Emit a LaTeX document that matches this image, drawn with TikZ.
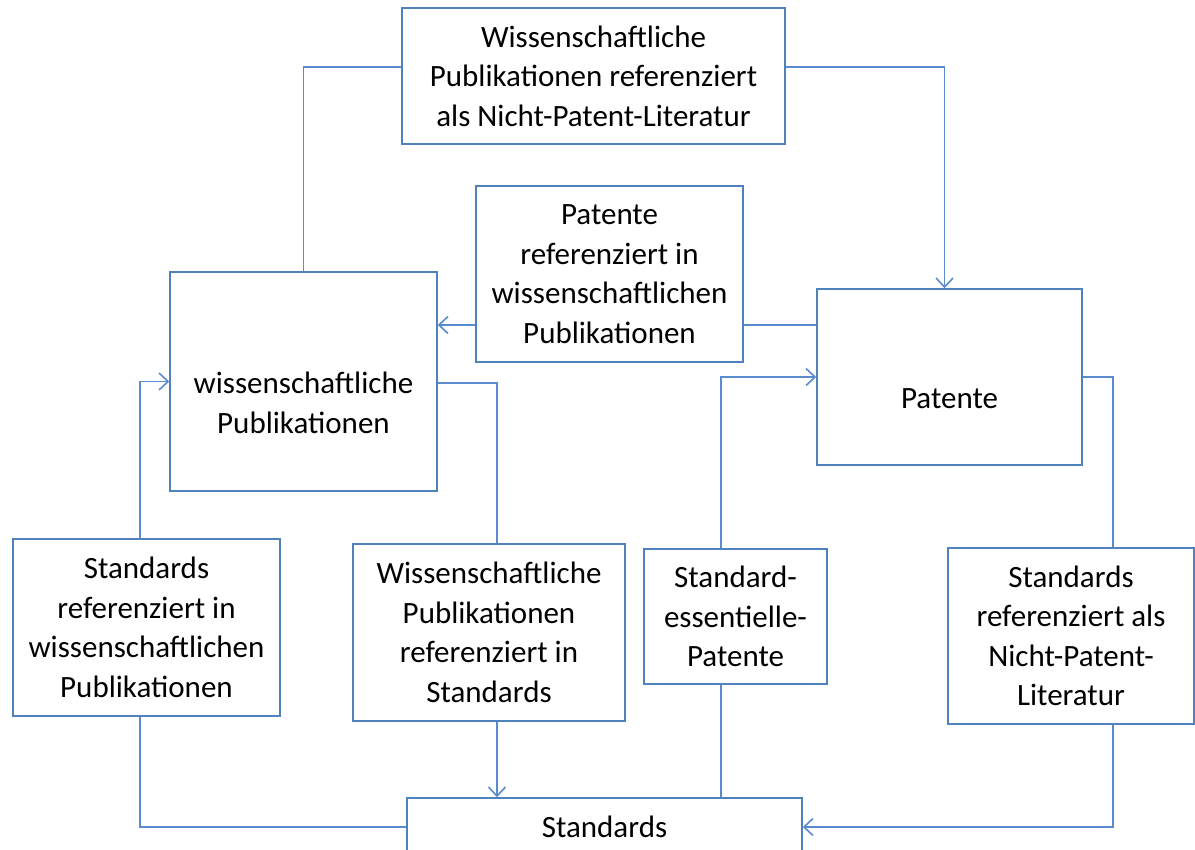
\documentclass[tikz,border=0pt]{standalone}
\usepackage{fontspec}
\setmainfont{Carlito}
\usetikzlibrary{arrows.meta}
\definecolor{conncol}{RGB}{91,139,207}
\definecolor{boxcol}{RGB}{79,129,189}
\begin{document}
\begin{tikzpicture}[x=1pt,y=-1pt,
  box/.style={draw=boxcol, line width=1.6pt, fill=white, inner sep=0pt, align=center,
    font=\fontsize{31}{39.5}\selectfont},
  lbl/.style={inner sep=0pt, align=center, font=\fontsize{31}{39.5}\selectfont},
  conn/.style={draw=conncol, line width=1.6pt},
  arr/.style={conn, -{Straight Barb[length=9pt,width=17pt,line width=1.6pt]}}
]
\useasboundingbox (0,0) rectangle (1195,850);
\clip (0,0) rectangle (1195,850);
\fill[white] (0,0) rectangle (1195,850);

% boxes
\node[box, minimum width=383pt, minimum height=136pt] (npl) at (593.5,76)
  {Wissenschaftliche\\Publikationen referenziert\\als Nicht-Patent-Literatur};
\node[box, minimum width=267pt, minimum height=176pt] (pref) at (609.5,274)
  {Patente\\referenziert in\\wissenschaftlichen\\Publikationen};
\node[box, minimum width=267pt, minimum height=219pt] (wpb) at (303.5,381.5) {};
\node[lbl] (wp) at (303.5,403) {wissenschaftliche\\Publikationen};
\node[box, minimum width=265pt, minimum height=176pt] (patb) at (949.5,377) {};
\node[lbl] (pat) at (949.5,399) {Patente};
\node[box, minimum width=267pt, minimum height=177pt] (srwp) at (146.5,627.5)
  {Standards\\referenziert in\\wissenschaftlichen\\Publikationen};
\node[box, minimum width=272pt, minimum height=177pt] (wprs) at (489,632.5)
  {Wissenschaftliche\\Publikationen\\referenziert in\\Standards};
\node[box, minimum width=183pt, minimum height=135pt] (sep) at (735.5,616.5)
  {Standard-\\essentielle-\\Patente};
\node[box, minimum width=246pt, minimum height=176pt] (srnpl) at (1071,636)
  {Standards\\referenziert als\\Nicht-Patent-\\Literatur};
\node[box, minimum width=395pt, minimum height=58pt] (std) at (604.5,827) {Standards};

% connectors
\draw[conn] (wpb.north) |- ([yshift=9pt]npl.west);
\draw[arr] ([yshift=9pt]npl.east) -| ([xshift=-5pt]patb.north);
\draw[conn] ([yshift=52pt]patb.west) -- ([yshift=52pt]patb.west -| pref.east);
\draw[arr] ([yshift=-51pt]pref.west) -- ([yshift=-51pt]pref.west -| wpb.east);
\draw[conn] ([yshift=-1.5pt]wpb.east) -| ([xshift=8pt]wprs.north);
\draw[arr] ([xshift=8pt]wprs.south) -- ([xshift=8pt]wprs.south |- std.north);
\draw[arr] ([xshift=-6.5pt]srwp.north) |- (wpb.west);
\draw[conn] ([xshift=-6.5pt]srwp.south) |- (std.west);
\draw[arr] ([xshift=-14.5pt]sep.north) |- (patb.west);
\draw[conn] ([xshift=-14.5pt]sep.south) -- ([xshift=-14.5pt]sep.south |- std.north);
\draw[conn] (patb.east) -| ([xshift=42pt]srnpl.north);
\draw[arr] ([xshift=42pt]srnpl.south) |- (std.east);
\end{tikzpicture}
\end{document}
